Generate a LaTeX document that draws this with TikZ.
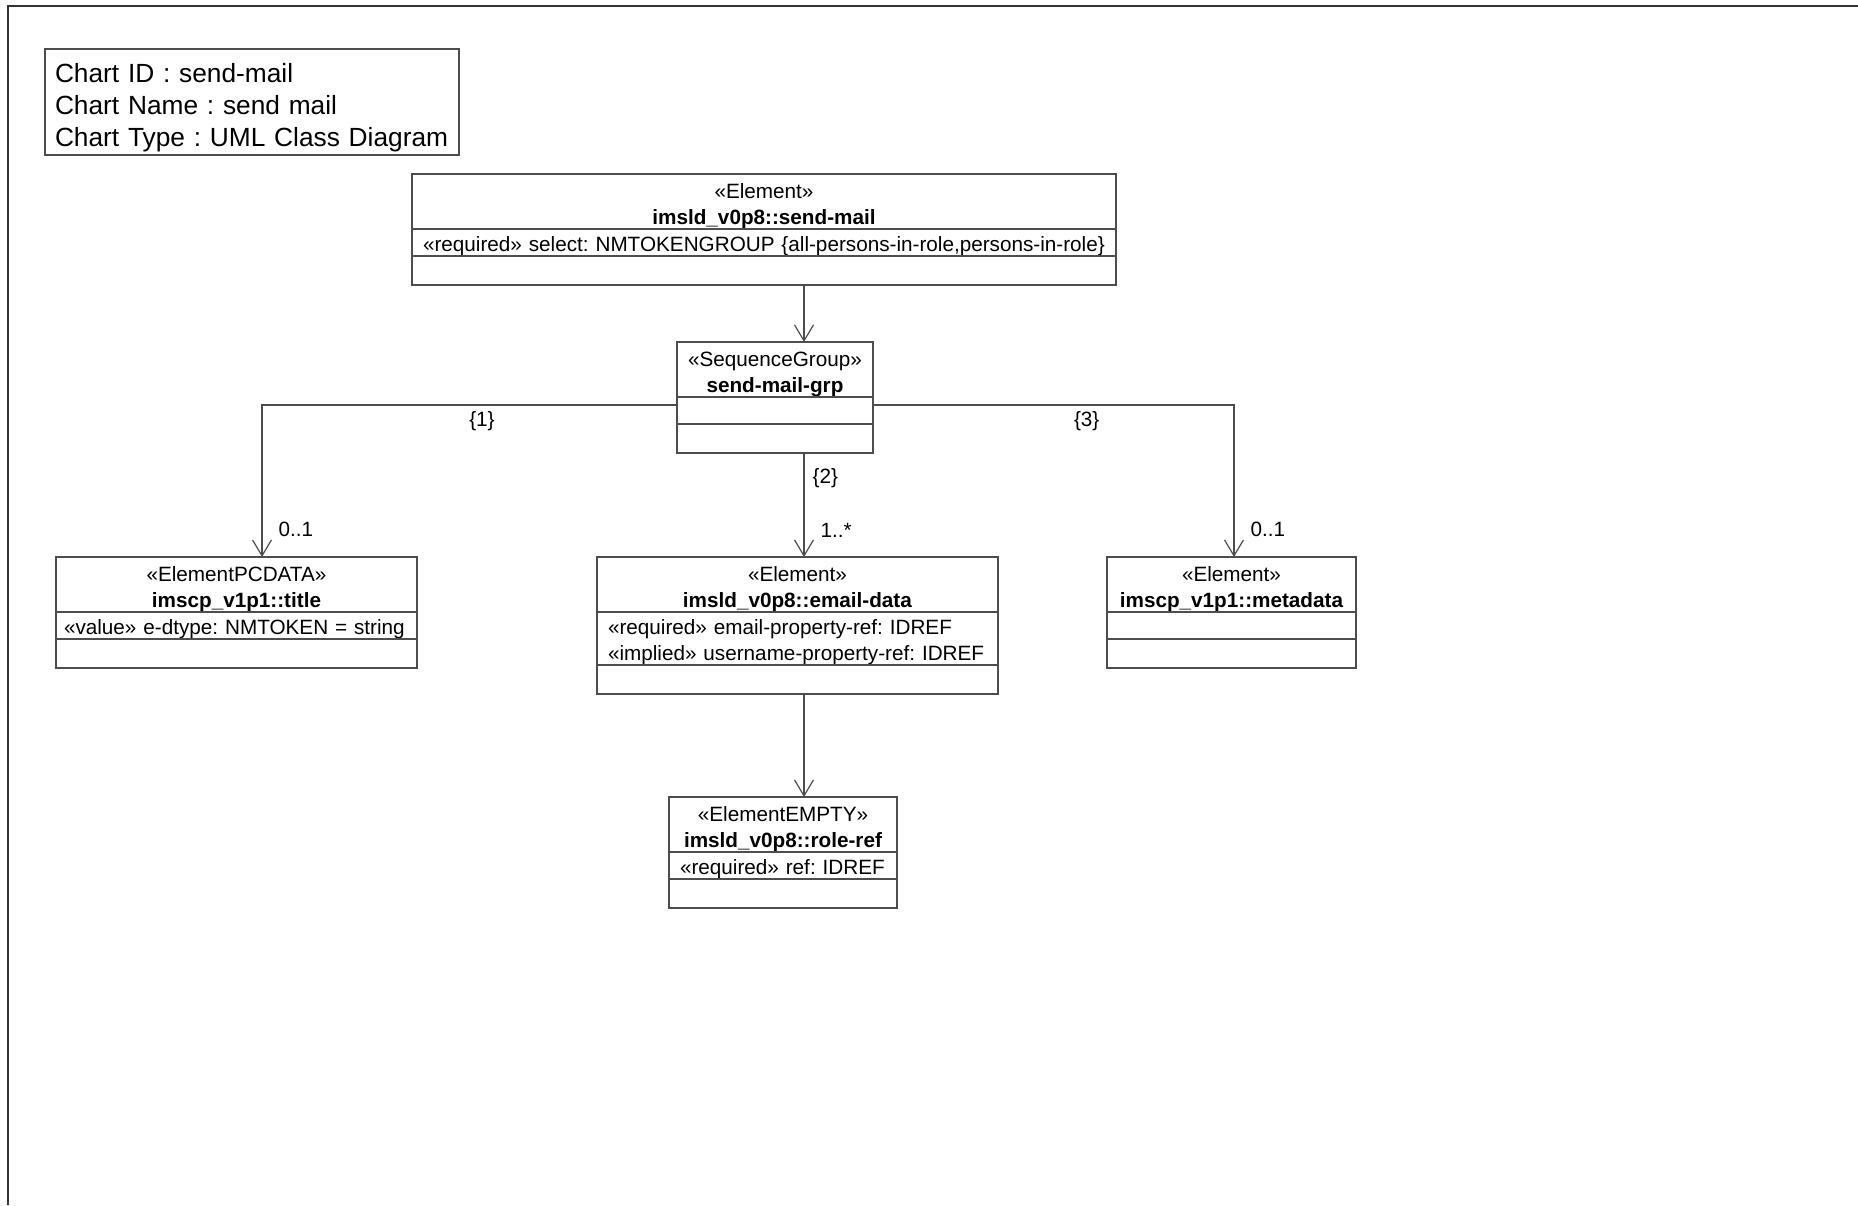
\documentclass[tikz,border=0pt]{standalone}
\usepackage{fontspec}
\setmainfont{Liberation Sans}
\usetikzlibrary{arrows.meta,positioning}
\definecolor{linegray}{HTML}{4D4D4D}
\definecolor{framegray}{HTML}{333333}

\begin{document}
\frenchspacing
\begin{tikzpicture}[x=1pt, y=-1pt, line width=1.2pt,
    boxfont/.style={font=\fontsize{20.7}{26}\selectfont\frenchspacing},
    info/.style={draw=linegray, anchor=north west, outer sep=0pt,
      inner xsep=10pt, inner ysep=0pt, text width=394pt, align=left,
      font=\fontsize{26.3}{32}\selectfont\frenchspacing,
      execute at begin node={\rule{0pt}{33pt}},
      execute at end node={\rule[-9pt]{0pt}{0pt}}},
    hdr/.style={draw=linegray, boxfont, anchor=north west, outer sep=0pt,
      inner sep=0pt, align=center,
      execute at begin node={\rule{0pt}{24.5pt}},
      execute at end node={\rule[-4.5pt]{0pt}{0pt}}},
    attrs/.style={draw=linegray, boxfont, outer sep=0pt, inner xsep=11pt,
      inner ysep=0pt, align=left,
      execute at begin node={\rule{0pt}{22pt}},
      execute at end node={\rule[-5pt]{0pt}{0pt}}},
    slot/.style={draw=linegray, outer sep=0pt, inner sep=0pt, minimum height=#1},
    assoc/.style={draw=linegray, -{Straight Barb[length=16pt, width=19pt]}},
    lbl/.style={boxfont, inner sep=2pt}]
  \useasboundingbox (0,0) rectangle (1858,1205);
  % Frame
  \draw[framegray, line width=2pt] (8,1205) -- (8,6) -- (1858,6);
  % Chart info
  \node[info] (info) at (45,49)
      {Chart ID : send-mail\\Chart Name : send mail\\Chart Type : UML Class Diagram};
  % send-mail
  \node[hdr, text width=704pt] (sm) at (412,174)
      {«Element»\\\textbf{imsld\_v0p8::send-mail}};
  \node[attrs, text width=682pt, below=0pt of sm] (sm-a)
      {«required» select: NMTOKENGROUP \{all-persons-in-role,persons-in-role\}};
  \node[slot=29pt, minimum width=704pt, below=0pt of sm-a] (sm-o) {};
  % send-mail-grp
  \node[hdr, text width=196pt] (seq) at (677,342)
      {«SequenceGroup»\\\textbf{send-mail-grp}};
  \node[slot=27pt, minimum width=196pt, below=0pt of seq] (seq-a) {};
  \node[slot=29pt, minimum width=196pt, below=0pt of seq-a] (seq-o) {};
  % title
  \node[hdr, text width=361pt] (ti) at (56,557)
      {«ElementPCDATA»\\\textbf{imscp\_v1p1::title}};
  \node[attrs, inner xsep=8pt, text width=345pt, below=0pt of ti] (ti-a)
      {«value» e-dtype: NMTOKEN = string};
  \node[slot=29pt, minimum width=361pt, below=0pt of ti-a] (ti-o) {};
  % email-data
  \node[hdr, text width=401pt] (ed) at (597,557)
      {«Element»\\\textbf{imsld\_v0p8::email-data}};
  \node[attrs, text width=379pt, below=0pt of ed] (ed-a)
      {«required» email-property-ref: IDREF\\«implied» username-property-ref: IDREF};
  \node[slot=29pt, minimum width=401pt, below=0pt of ed-a] (ed-o) {};
  % metadata
  \node[hdr, text width=249pt] (md) at (1107,557)
      {«Element»\\\textbf{imscp\_v1p1::metadata}};
  \node[slot=27pt, minimum width=249pt, below=0pt of md] (md-a) {};
  \node[slot=29pt, minimum width=249pt, below=0pt of md-a] (md-o) {};
  % role-ref
  \node[hdr, text width=228pt] (rr) at (669,797)
      {«ElementEMPTY»\\\textbf{imsld\_v0p8::role-ref}};
  \node[attrs, text width=206pt, below=0pt of rr] (rr-a) {«required» ref: IDREF};
  \node[slot=29pt, minimum width=228pt, below=0pt of rr-a] (rr-o) {};
  % Connectors
  \coordinate (spine) at (804,0);
  \coordinate (bendl) at (262,405);
  \coordinate (bendr) at (1234,405);
  \draw[assoc] (sm-o.south -| spine) -- (seq.north -| spine);
  \draw[assoc] (seq-a.west |- bendl) -| (ti.north -| bendl)
      node[lbl, pos=.235, below=4pt] (seq1) {\{1\}}
      node[lbl, pos=.91, right=14pt] (m1) {0..1};
  \draw[assoc] (seq-o.south -| spine) -- (ed.north -| spine)
      node[lbl, pos=.24, right=6pt] (seq2) {\{2\}}
      node[lbl, pos=.74, right=14pt] (m2) {1..*};
  \draw[assoc] (seq-a.east |- bendr) -| (md.north -| bendr)
      node[lbl, pos=.296, below=4pt] (seq3) {\{3\}}
      node[lbl, pos=.91, right=14pt] (m3) {0..1};
  \draw[assoc] (ed-o.south -| spine) -- (rr.north -| spine);
\end{tikzpicture}
\end{document}
